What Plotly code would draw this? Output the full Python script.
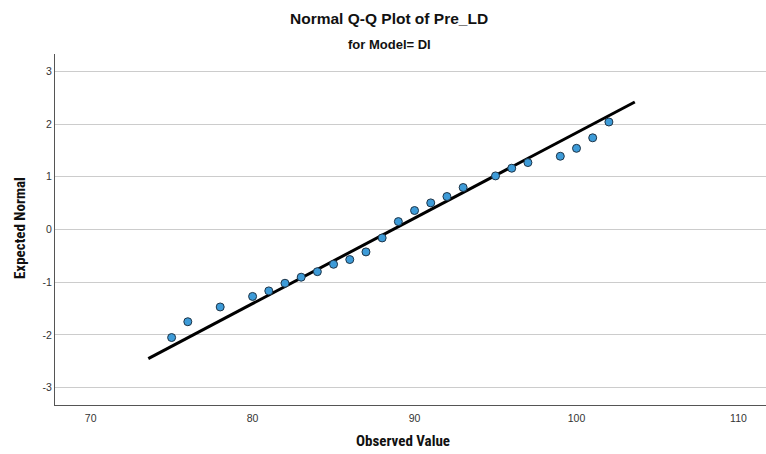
import plotly.graph_objects as go

observed = [75, 76, 78, 80, 81, 82, 83, 84, 85, 86, 87, 88, 89, 90, 91, 92, 93,
            95, 96, 97, 99, 100, 101, 102]
expected = [-2.05, -1.75, -1.47, -1.27, -1.165, -1.02, -0.905, -0.80, -0.66, -0.57,
            -0.425, -0.16, 0.15, 0.36, 0.505, 0.626, 0.797, 1.017, 1.163, 1.27,
            1.39, 1.54, 1.74, 2.04]
line_x = [73.56, 103.6]
line_y = [-2.45, 2.42]
y_ticks = [-3, -2, -1, 0, 1, 2, 3]
y_labels = ["-3", "-2", "-1", "0", "1", "2", "3"]
x_ticks = [70, 80, 90, 100, 110]

cond_font = "Liberation Sans Narrow, Roboto Condensed, Liberation Sans, Arial, sans-serif"
body_font = "Liberation Sans, Arial, sans-serif"

fig = go.Figure()
fig.add_trace(go.Scatter(x=line_x, y=line_y, mode="lines",
                         line=dict(color="black", width=3), hoverinfo="skip",
                         showlegend=False))
fig.add_trace(go.Scatter(x=observed, y=expected, mode="markers",
                         marker=dict(size=8, color="#3d9bd8",
                                     line=dict(color="#1e3447", width=1)),
                         showlegend=False))

fig.update_layout(
    width=766, height=454,
    margin=dict(l=55, r=0, t=54, b=49),
    paper_bgcolor="white", plot_bgcolor="white",
    font=dict(family=body_font, size=10, color="#333333"),
    xaxis=dict(range=[67.8, 111.7], tickvals=x_ticks, showgrid=False,
               zeroline=False, showline=True, linecolor="#555555", linewidth=1,
               ticks="", ticklen=0, ticklabelstandoff=3,
               tickfont=dict(size=10.5, color="#333333")),
    yaxis=dict(range=[-3.33, 3.33], tickvals=y_ticks, ticktext=y_labels,
               showgrid=True, gridcolor="#cccccc", gridwidth=1, zeroline=False,
               showline=True, linecolor="#555555", linewidth=1, ticks="",
               ticklen=0, ticklabelstandoff=0,
               tickfont=dict(size=10.5, color="#333333")),
    annotations=[
        dict(text="<b>Normal Q-Q Plot of Pre_LD</b>", x=389, y=454 - 19,
             showarrow=False, font=dict(family=body_font, size=15.5, color="#111111")),
        dict(text="<b>for Model= DI</b>", x=389, y=454 - 44,
             showarrow=False, font=dict(family=body_font, size=13, color="#111111")),
        dict(text="<b>Observed Value</b>", x=403, y=454 - 441,
             showarrow=False, font=dict(family=cond_font, size=15, color="#111111")),
        dict(text="<b>Expected Normal</b>", x=20, y=454 - 228, textangle=-90,
             showarrow=False, font=dict(family=cond_font, size=15, color="#111111")),
    ],
)

# convert pixel positions of annotations to paper coordinates
pw, ph = 766 - 55 - 0, 454 - 54 - 49
for a in fig.layout.annotations:
    a.x = (a.x - 55) / pw
    a.y = (a.y - 49) / ph
    a.xref = "paper"
    a.yref = "paper"
    a.xanchor = "center"
    a.yanchor = "middle"

fig.write_html("out.html")
